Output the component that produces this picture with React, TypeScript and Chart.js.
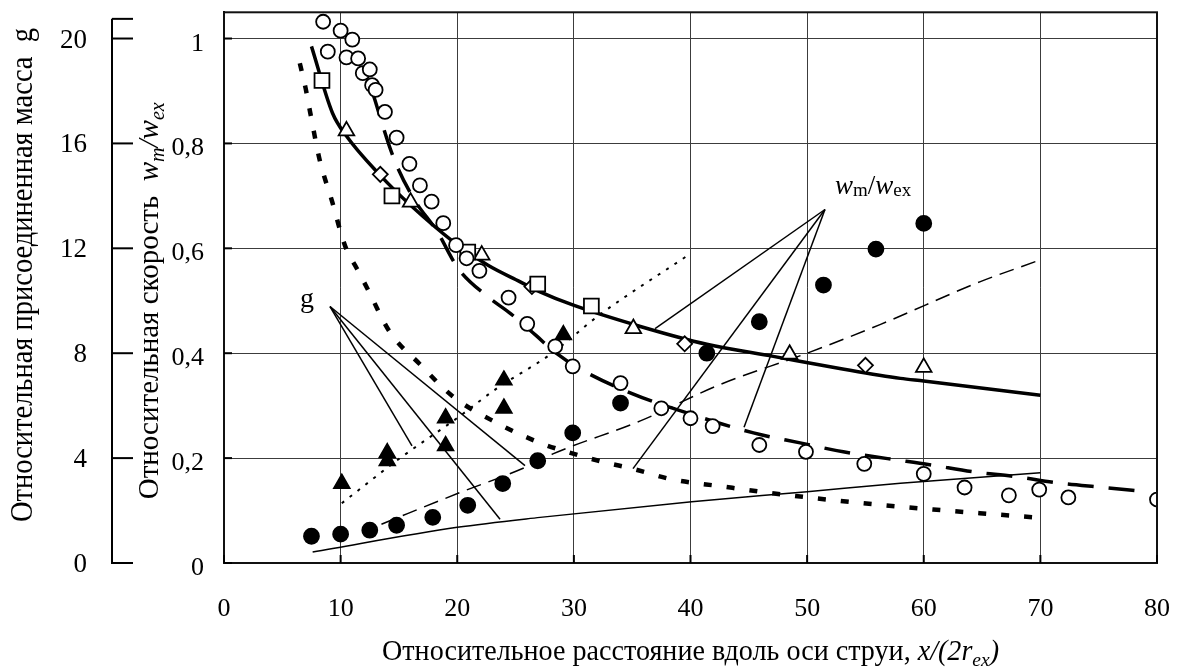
import React, { useEffect, useRef } from 'react';
import { Chart, registerables } from 'chart.js';

Chart.register(...registerables);

const FONT = '"Liberation Serif", "Times New Roman", Times, serif';

// ---- tick labels ----
const xTicks = [0, 10, 20, 30, 40, 50, 60, 70, 80];
const xTickLabels = ['0', '10', '20', '30', '40', '50', '60', '70', '80'];
const wTicks = [0, 0.2, 0.4, 0.6, 0.8, 1];
const wTickLabels = ['0', '0,2', '0,4', '0,6', '0,8', '1'];
const gTicks = [0, 4, 8, 12, 16, 20];
const gTickLabels = ['0', '4', '8', '12', '16', '20'];
const gAxisTop = 20.75;

// ---- w_m/w_ex markers ----
const circX = [8.5, 8.9, 10.0, 11.0, 10.5, 11.5, 11.9, 12.5, 12.7, 13.0, 13.8, 14.8, 15.9, 16.8, 17.8, 18.8, 19.9, 20.8, 21.9, 24.4, 26.0, 28.4, 29.9, 34.0, 37.5, 40.0, 41.9, 45.9, 49.9, 54.9, 60.0, 63.5, 67.3, 69.9, 72.4, 80.0];
const circW = [1.032, 0.975, 1.015, 0.998, 0.964, 0.962, 0.934, 0.941, 0.911, 0.902, 0.86, 0.811, 0.761, 0.72, 0.689, 0.648, 0.606, 0.581, 0.557, 0.506, 0.456, 0.413, 0.375, 0.343, 0.295, 0.276, 0.261, 0.225, 0.212, 0.189, 0.17, 0.144, 0.129, 0.14, 0.125, 0.121];

const sqX = [8.4, 14.4, 20.9, 26.9, 31.5];
const sqW = [0.92, 0.70, 0.593, 0.532, 0.49];

const triX = [10.5, 16.0, 22.1, 35.1, 48.5, 60.0];
const triW = [0.824, 0.688, 0.587, 0.447, 0.398, 0.373];

const diaX = [13.4, 26.4, 39.5, 55.0];
const diaW = [0.741, 0.527, 0.418, 0.377];

// ---- g markers ----
const fcX = [7.5, 10, 12.5, 14.8, 17.9, 20.9, 23.9, 26.9, 29.9, 34, 41.4, 45.9, 51.4, 55.9, 60];
const fcG = [1.02, 1.1, 1.25, 1.44, 1.74, 2.2, 3.03, 3.9, 4.96, 6.1, 8.0, 9.2, 10.6, 11.97, 12.95];

const ftX = [10.1, 14.0, 14.0, 19.0, 19.0, 24.0, 24.0, 29.1];
const ftG = [3.03, 4.2, 3.9, 5.53, 4.47, 6.97, 5.9, 8.7];

// ---- w_m/w_ex curves ----
const solidX = [7.5, 9.3, 10.5, 13.4, 16, 19.7, 22.6, 25.4, 27.1, 29.9, 35.7, 41.4, 47.1, 52.8, 58, 60, 70];
const solidW = [0.985, 0.858, 0.814, 0.739, 0.682, 0.612, 0.568, 0.536, 0.517, 0.492, 0.451, 0.417, 0.394, 0.371, 0.352, 0.347, 0.32];

const longDashX = [12.7, 14.5, 16.2, 18.3, 20.1, 22.6, 24.6, 26.8, 28.2, 30.3, 35.1, 38.9, 45.4, 49.4, 53.1, 56.9, 60.5, 64.2, 67.8, 71.4, 75.4, 79.0];
const longDashW = [0.9, 0.775, 0.697, 0.631, 0.561, 0.508, 0.475, 0.433, 0.405, 0.373, 0.322, 0.292, 0.248, 0.229, 0.212, 0.199, 0.1875, 0.174, 0.165, 0.153, 0.144, 0.136];

const shortDashX = [6.5, 7.0, 7.4, 8.2, 9.3, 10, 10.5, 11.4, 12.3, 14.2, 16.8, 19.6, 23.4, 27.1, 29.1, 32.8, 34.8, 38.5, 42.7, 46.7, 50.9, 54.8, 60.8, 64.8, 69.5];
const shortDashW = [0.953, 0.905, 0.858, 0.769, 0.687, 0.631, 0.598, 0.561, 0.523, 0.441, 0.379, 0.318, 0.267, 0.229, 0.214, 0.191, 0.181, 0.159, 0.146, 0.134, 0.123, 0.114, 0.102, 0.095, 0.087];

// ---- g curves ----
const dottedX = [10.1, 15.1, 20, 23.4, 28, 32.2, 39.8];
const dottedG = [2.28, 4.0, 5.53, 6.66, 7.96, 9.46, 11.74];

const thinDashX = [13.5, 20.2, 25.8, 28.2, 35.7, 42.5, 50, 56.3, 64.8, 70];
const thinDashG = [1.48, 2.68, 3.64, 4.16, 5.42, 6.8, 8.0, 9.1, 10.72, 11.56];

const thinSolidX = [7.6, 20, 27.1, 40.1, 50, 58, 70];
const thinSolidG = [0.42, 1.36, 1.74, 2.34, 2.72, 3.04, 3.44];

// ---- leader lines (x, w units) ----
const gApex = [9.09, 0.489];
const gTargets = [[16.12, 0.2235], [23.67, 0.0833], [25.81, 0.1856]];
const wApex = [51.53, 0.674];
const wTargets = [[36.96, 0.447], [35.07, 0.18], [44.59, 0.259]];
const gLabelPos = [6.52, 0.4886];
const wLabelPos = [52.39, 0.7027];

const pts = (xs: number[], ys: number[]) => xs.map((x, i) => ({ x, y: ys[i] }));

type Run = { t: string; it?: boolean; sub?: boolean };

function runFont(r: Run, size: number) {
  const s = r.sub ? Math.round(size * 0.7) : size;
  return `${r.it ? 'italic ' : ''}${s}px ${FONT}`;
}

function drawRuns(
  ctx: CanvasRenderingContext2D,
  runs: Run[],
  size: number,
  x: number,
  y: number,
  opts: { angle?: number; len?: number; sy?: number; align?: 'left' | 'center' | 'right'; subDy?: number }
) {
  let w = 0;
  for (const r of runs) {
    ctx.font = runFont(r, size);
    w += ctx.measureText(r.t).width;
  }
  const sx = opts.len ? opts.len / w : 1;
  ctx.save();
  ctx.translate(x, y);
  ctx.rotate(opts.angle || 0);
  ctx.scale(sx, opts.sy || 1);
  ctx.textBaseline = 'alphabetic';
  ctx.textAlign = 'left';
  ctx.fillStyle = '#000';
  const align = opts.align || 'left';
  let cx = align === 'center' ? -w / 2 : align === 'right' ? -w : 0;
  for (const r of runs) {
    ctx.font = runFont(r, size);
    ctx.fillText(r.t, cx, r.sub ? (opts.subDy ?? size * 0.2) : 0);
    cx += ctx.measureText(r.t).width;
  }
  ctx.restore();
}

const decor = {
  id: 'decor',
  afterDraw(chart: any) {
    const ctx: CanvasRenderingContext2D = chart.ctx;
    const { left, right, top, bottom } = chart.chartArea;
    const xs = chart.scales.x;
    const ys = chart.scales.y;
    const gs = chart.scales.g;
    ctx.save();
    // frame
    ctx.strokeStyle = '#111';
    ctx.lineWidth = 2;
    ctx.strokeRect(left, top, right - left, bottom - top);
    // inner tick marks
    ctx.lineWidth = 2;
    ctx.strokeStyle = '#000';
    for (const v of xTicks) {
      const px = xs.getPixelForValue(v);
      ctx.beginPath();
      ctx.moveTo(px, bottom);
      ctx.lineTo(px, bottom - 8);
      ctx.stroke();
    }
    for (const v of wTicks) {
      const py = ys.getPixelForValue(v);
      ctx.beginPath();
      ctx.moveTo(left, py);
      ctx.lineTo(left + 8, py);
      ctx.stroke();
    }
    // outer g axis
    const ax = left - 112;
    ctx.beginPath();
    ctx.moveTo(ax, gs.getPixelForValue(gAxisTop));
    ctx.lineTo(ax, gs.getPixelForValue(0) + 1);
    ctx.stroke();
    for (const v of [...gTicks, gAxisTop]) {
      const py = gs.getPixelForValue(v);
      ctx.beginPath();
      ctx.moveTo(ax, py);
      ctx.lineTo(ax + 21, py);
      ctx.stroke();
    }
    // tick labels
    ctx.fillStyle = '#000';
    ctx.textBaseline = 'alphabetic';
    ctx.font = `26px ${FONT}`;
    ctx.textAlign = 'center';
    xTicks.forEach((v, i) => ctx.fillText(xTickLabels[i], xs.getPixelForValue(v), bottom + 53));
    ctx.textAlign = 'right';
    wTicks.forEach((v, i) => ctx.fillText(wTickLabels[i], left - 20, ys.getPixelForValue(v) + 12));
    ctx.font = `27px ${FONT}`;
    gTicks.forEach((v, i) => ctx.fillText(gTickLabels[i], left - 137, gs.getPixelForValue(v) + 9));

    // axis titles
    drawRuns(ctx, [{ t: 'Относительное расстояние вдоль оси струи, ' }, { t: 'x/(2r', it: true }, { t: 'ex', it: true, sub: true }, { t: ')', it: true }],
      26, (left + right) / 2, bottom + 97, { align: 'center', len: 617, sy: 1.1 });
    drawRuns(ctx, [{ t: 'Относительная присоединенная масса  g' }],
      26, 32, 275, { angle: -Math.PI / 2, align: 'center', len: 494, sy: 1.2 });
    drawRuns(ctx, [{ t: 'Относительная скорость  ' }, { t: 'w', it: true }, { t: 'm', it: true, sub: true }, { t: '/', it: true }, { t: 'w', it: true }, { t: 'ex', it: true, sub: true }],
      26, left - 66, (ys.getPixelForValue(0) + ys.getPixelForValue(1)) / 2, { angle: -Math.PI / 2, align: 'center', len: 397, sy: 1.15 });

    // annotation labels
    drawRuns(ctx, [{ t: 'g' }], 28, xs.getPixelForValue(gLabelPos[0]), ys.getPixelForValue(gLabelPos[1]), { align: 'left' });
    drawRuns(ctx, [{ t: 'w', it: true }, { t: 'm', sub: true }, { t: '/' }, { t: 'w', it: true }, { t: 'ex', sub: true }],
      27, xs.getPixelForValue(wLabelPos[0]), ys.getPixelForValue(wLabelPos[1]), { align: 'left', subDy: 2 });
    ctx.restore();
  },
};

export default function App() {
  const ref = useRef<HTMLCanvasElement | null>(null);

  useEffect(() => {
    if (!ref.current) return;
    const line = (data: any[], yAxisID: string, width: number, dash: number[], smooth = true) => ({
      data,
      yAxisID,
      showLine: true,
      borderColor: '#000',
      borderWidth: width,
      borderDash: dash,
      pointRadius: 0,
      fill: false,
      cubicInterpolationMode: smooth ? 'monotone' : 'default',
      tension: 0,
    });
    const marker = (data: any[], yAxisID: string, style: string, radius: number, filled: boolean) => ({
      data,
      yAxisID,
      showLine: false,
      pointStyle: style,
      pointRadius: radius,
      pointBorderWidth: 1.8,
      pointBorderColor: '#000',
      pointBackgroundColor: filled ? '#000' : '#fff',
    });
    const leaders = [
      ...gTargets.map((t) => line([{ x: gApex[0], y: gApex[1] }, { x: t[0], y: t[1] }], 'y', 1.5, [], false)),
      ...wTargets.map((t) => line([{ x: wApex[0], y: wApex[1] }, { x: t[0], y: t[1] }], 'y', 1.5, [], false)),
    ];
    const chart = new Chart(ref.current, {
      type: 'scatter',
      data: {
        datasets: [
          marker(pts(circX, circW), 'y', 'circle', 7, false),
          marker(pts(sqX, sqW), 'y', 'rect', 10.5, false),
          marker(pts(triX, triW), 'y', 'triangle', 9, false),
          marker(pts(diaX, diaW), 'y', 'rectRot', 7.5, false),
          marker(pts(fcX, fcG), 'g', 'circle', 7.5, true),
          marker(pts(ftX, ftG), 'g', 'triangle', 9, true),
          line(pts(solidX, solidW), 'y', 3.5, []),
          line(pts(longDashX, longDashW), 'y', 3.5, [26, 15]),
          line(pts(shortDashX, shortDashW), 'y', 4.5, [8, 15]),
          line(pts(dottedX, dottedG), 'g', 2, [3, 7]),
          line(pts(thinDashX, thinDashG), 'g', 1.5, [15, 8]),
          line(pts(thinSolidX, thinSolidG), 'g', 1.5, []),
          ...leaders,
        ] as any,
      },
      options: {
        responsive: false,
        animation: false,
        devicePixelRatio: 1,
        layout: { padding: { left: 224, right: 21, top: 8, bottom: 104 } },
        plugins: { legend: { display: false }, tooltip: { enabled: false } },
        scales: {
          x: {
            type: 'linear',
            min: 0,
            max: 80,
            afterBuildTicks: (s: any) => { s.ticks = xTicks.map((v) => ({ value: v })); },
            afterFit: (s: any) => { s.height = 0; },
            ticks: { display: false },
            grid: { color: '#3c3c3c', lineWidth: 1, drawTicks: false },
            border: { display: true, color: '#000', width: 2 },
          },
          y: {
            type: 'linear',
            position: 'left',
            min: 0,
            max: 1.05,
            afterBuildTicks: (s: any) => { s.ticks = wTicks.map((v) => ({ value: v })); },
            afterFit: (s: any) => { s.width = 0; },
            ticks: { display: false },
            grid: { color: '#3c3c3c', lineWidth: 1, drawTicks: false },
            border: { display: true, color: '#000', width: 2 },
          },
          g: {
            type: 'linear',
            position: 'left',
            min: 0,
            max: 21,
            display: false,
          },
        },
      } as any,
      plugins: [decor],
    });
    return () => chart.destroy();
  }, []);

  return (
    <div style={{ position: 'fixed', left: 0, top: 0, width: 1178, height: 667, background: '#fff' }}>
      <canvas ref={ref} width={1178} height={667} style={{ display: 'block', width: 1178, height: 667 }} />
    </div>
  );
}
